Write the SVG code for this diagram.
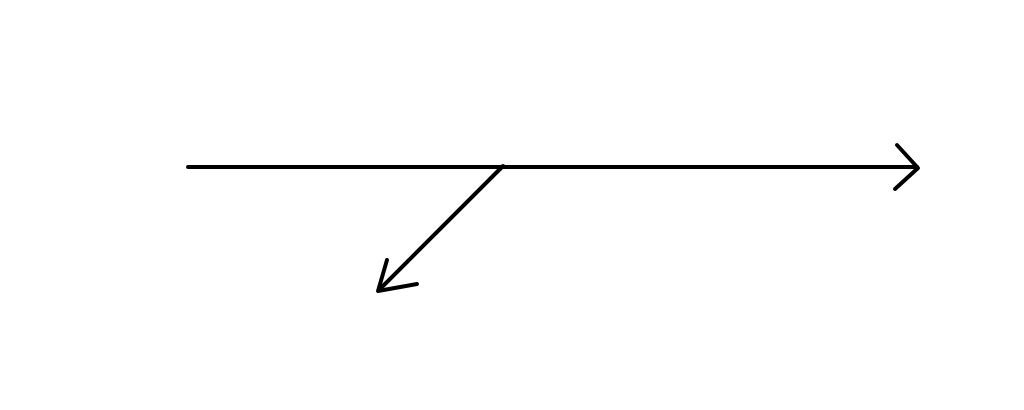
<svg xmlns="http://www.w3.org/2000/svg" width="1024" height="410" viewBox="0 0 1024 410">
<style>
.ln{fill:none;stroke:#000;stroke-width:4;stroke-linecap:round;stroke-linejoin:round}
</style>
<rect width="1024" height="410" fill="#fff"/>
<g id="connectors">
<path class="ln" d="M188 167 L917 167"/>
<path class="ln" d="M897 145 L918 168 L895 189"/>
<path class="ln" d="M503 166 L379 290"/>
<path class="ln" d="M387 260 L378 291 L417 284"/>
</g>
</svg>
